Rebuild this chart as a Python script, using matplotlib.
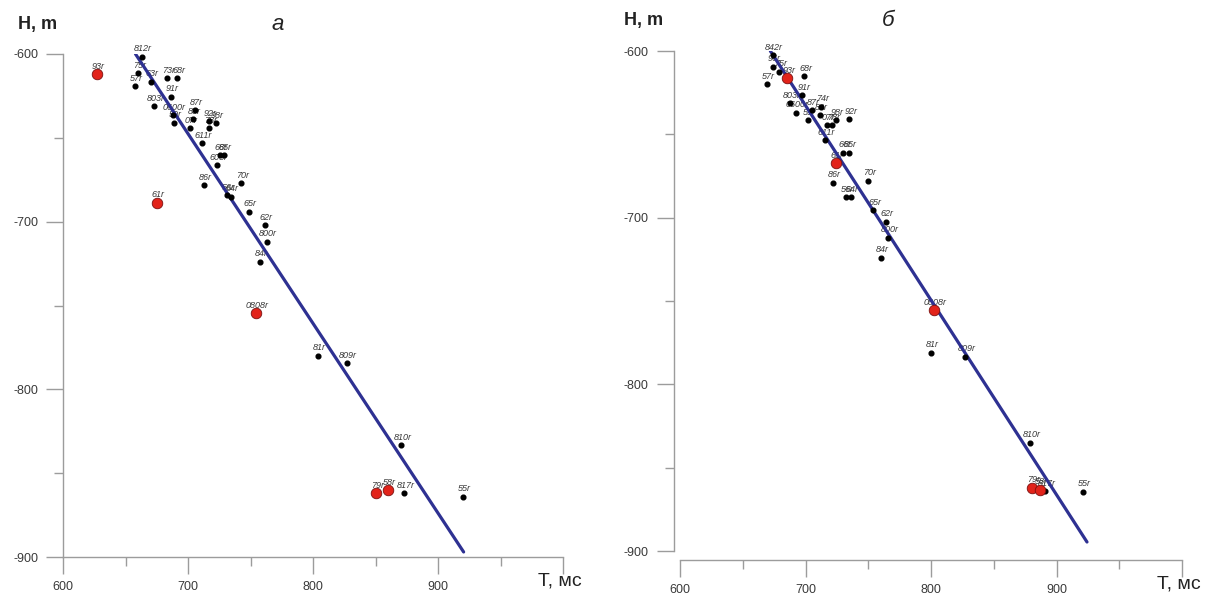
import numpy as np
import matplotlib
matplotlib.use('Agg')
import matplotlib.pyplot as plt

plt.rcParams['font.family'] = ['Liberation Sans', 'DejaVu Sans']
plt.rcParams['axes.unicode_minus'] = False

#Panel a: wells (name, T ms, H m)
left_names = ['812r', '75r', '57r', '63r', '73r', '68r', '91r', '803r', '0600r', '59r',
              '87r', '83r', '92r', '98r', '07r', '78r', '611r', '66r', '85r', '605r',
              '86r', '70r', '56r', '64r', '65r', '62r', '800r', '84r', '81r', '809r',
              '810r', '817r', '55r']
left_t = [663, 660, 657.6, 670, 683.4, 691.4, 686.4, 673, 687.8, 688.8,
          705.6, 704.3, 716.8, 722.2, 701.6, 716.8, 711, 725.6, 729, 723.4,
          712.8, 742.4, 731, 734.2, 748.8, 761.6, 763, 757.6, 803.8, 827,
          870.4, 873, 920]
left_h = [-601.6, -611.5, -619.1, -616.5, -614.5, -614.5, -625.5, -631, -636.4, -641,
          -633.4, -638.8, -640, -641.3, -644.3, -644.3, -653.3, -660.3, -660.3, -666.2,
          -678.2, -677.1, -684.1, -685.1, -694.1, -702, -712, -723.9, -780, -784.5,
          -833.3, -862.1, -864]
left_red_names = ['93r', '61r', '0808r', '79r', '58r']
left_red_t = [627, 675, 754, 850.4, 859.8]
left_red_h = [-612.1, -688.7, -754.7, -862.1, -860.1]
left_fit_t = [658, 920.5]
left_fit_h = [-600, -897]

#Panel b
right_names = ['842r', '96r', '75r', '57r', '68r', '91r', '803r', '0600r', '59r', '87r',
               '74r', '83r', '07r', '78r', '98r', '92r', '611r', '66r', '85r', '86r',
               '70r', '56r', '64r', '65r', '62r', '800r', '84r', '81r', '809r', '810r',
               '817r', '55r']
right_t = [673.8, 674.3, 679, 669, 699, 697.5, 687.6, 692.2, 702.3, 705,
           712.4, 711.6, 716.9, 720.9, 724, 734.9, 715.5, 730, 734.9, 722.2,
           750, 732.3, 736, 754, 764.1, 765.7, 760, 800, 827, 878.9,
           890.8, 921.4]
right_h = [-602.4, -609.4, -612.4, -619.8, -615, -626.4, -631.4, -637, -641.4, -635.4,
           -633.4, -638.4, -644.4, -644.4, -641.4, -640.8, -653.4, -661, -661, -679,
           -677.8, -687.8, -687.8, -695.4, -702.5, -712, -724, -780.9, -783.5, -835.1,
           -864, -864.5]
right_red_names = ['93r', '61r', '0808r', '79r', '58r']
right_red_t = [685.5, 724, 802.4, 880.7, 886.9]
right_red_h = [-616.4, -667.4, -755.5, -861.9, -863.1]
right_fit_t = [672, 924.3]
right_fit_h = [-600, -894.6]

gray = '#9c9c9c'
txt = '#3a3a3a'

def drawPanel(ax, names, t, h, red_names, red_t, red_h, fit_t, fit_h, offset):
    ax.plot(fit_t, fit_h, color='#2e3192', lw=2.3, zorder=3, solid_capstyle='round')
    ax.plot(t, h, 'o', color='black', ms=3.4, zorder=4, clip_on=False)
    ax.plot(red_t, red_h, 'o', mfc='#e2231a', mec='#7a1010', mew=0.6, ms=7.6, zorder=5, clip_on=False)
    for n, x, y in zip(names + red_names, t + red_t, h + red_h):
        ax.annotate(n, (x, y), xytext=(1, 2.5), textcoords='offset points', ha='center', va='bottom',
                    fontsize=6.5, style='italic', color=txt, zorder=2)
    ax.set_xlim(600, 1000)
    ax.set_ylim(-900, -600)
    for s in ['top', 'right']:
        ax.spines[s].set_visible(False)
    for s in ['left', 'bottom']:
        ax.spines[s].set_color(gray)
        ax.spines[s].set_linewidth(1)
    ax.spines['left'].set_bounds(-900, -600)
    ax.spines['bottom'].set_bounds(600, 1000)
    if offset:
        ax.spines['left'].set_position(('outward', 4.5))
        ax.spines['bottom'].set_position(('outward', 6.5))
    ax.set_xticks([600, 700, 800, 900, 1000])
    ax.set_xticklabels(['600', '700', '800', '900', ''])
    ax.set_xticks([650, 750, 850, 950], minor=True)
    ax.set_yticks([-900, -800, -700, -600])
    ax.set_yticks([-850, -750, -650], minor=True)
    ax.tick_params(which='major', direction='out', length=12, width=1, color=gray,
                   labelsize=9, labelcolor=txt)
    ax.tick_params(which='minor', direction='out', length=6.5, width=1, color=gray)
    ax.tick_params(axis='y', which='major', pad=6)
    ax.tick_params(axis='x', which='major', pad=5)
    ax.annotate('T, мс', (1000, -900), xytext=(-2, -11 - (6.5 if offset else 0)),
                textcoords='offset points', ha='center', va='top', fontsize=14,
                color='#222222', annotation_clip=False)

fig = plt.figure(figsize=(12.16, 5.95), dpi=100)
ax1 = fig.add_axes([63/1216, 1-557/595, 500/1216, 503/595])
ax2 = fig.add_axes([680/1216, 1-551/595, 502/1216, 500/595])

drawPanel(ax1, left_names, left_t, left_h, left_red_names, left_red_t, left_red_h,
          left_fit_t, left_fit_h, False)
drawPanel(ax2, right_names, right_t, right_h, right_red_names, right_red_t, right_red_h,
          right_fit_t, right_fit_h, True)

fig.text(38/1216, 1-24/595, 'H, m', fontsize=13, weight='bold', color='#222222', ha='center', va='center')
fig.text(644/1216, 1-20/595, 'H, m', fontsize=13, weight='bold', color='#222222', ha='center', va='center')
fig.text(278/1216, 1-24/595, 'а', fontsize=16, style='italic', color='#222222', ha='center', va='center')
fig.text(888/1216, 1-21/595, 'б', fontsize=16, style='italic', color='#222222', ha='center', va='center')

plt.savefig('out.png', dpi=100)
plt.close()
